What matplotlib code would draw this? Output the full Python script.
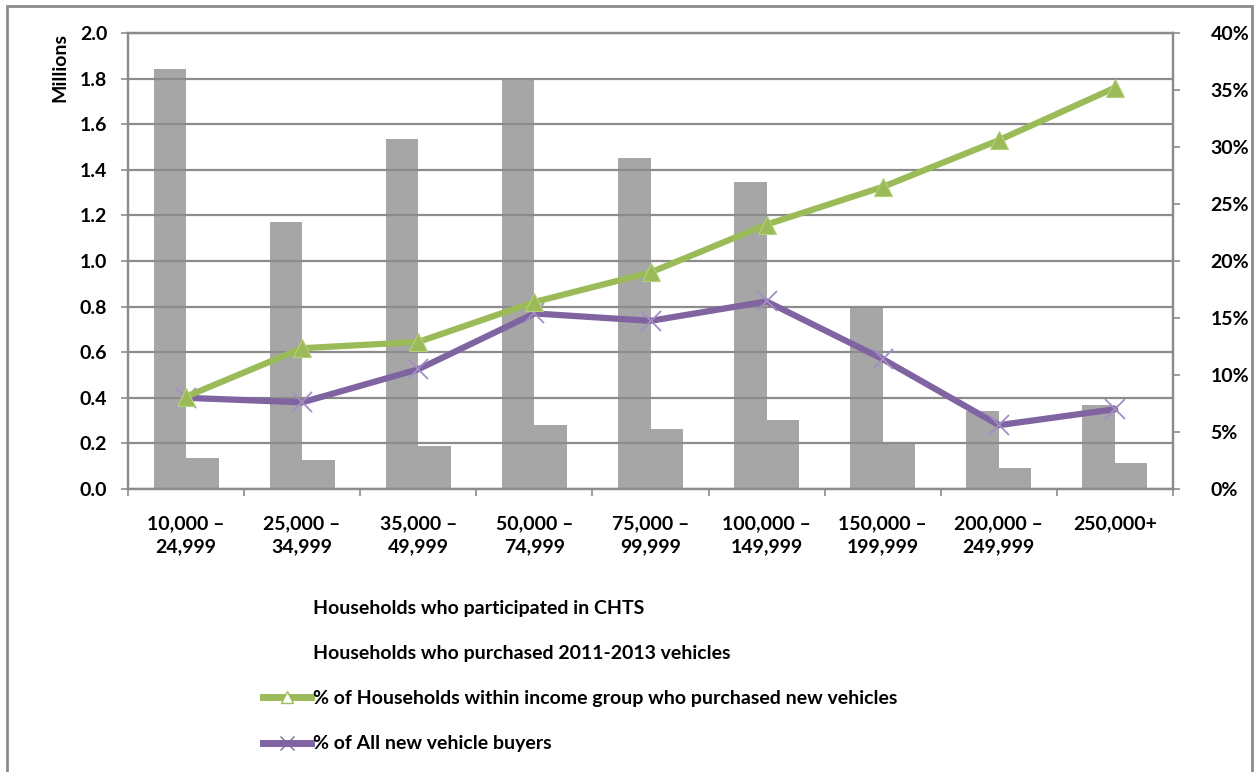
import matplotlib.pyplot as plt
import numpy as np
from matplotlib.lines import Line2D
from matplotlib.patches import Patch, Rectangle
from matplotlib.ticker import FuncFormatter

plt.rcParams['font.family'] = ['Lato', 'DejaVu Sans']
plt.rcParams['font.weight'] = 'bold'

# income groups (x-axis)
groups = ["10,000 –\n24,999", "25,000 –\n34,999", "35,000 –\n49,999",
          "50,000 –\n74,999", "75,000 –\n99,999", "100,000 –\n149,999",
          "150,000 –\n199,999", "200,000 –\n249,999", "250,000+"]

# bars, millions of households (left axis)
chts_households = [1.844, 1.172, 1.537, 1.803, 1.452, 1.347, 0.803, 0.343, 0.369]
new_vehicle_households = [0.138, 0.128, 0.187, 0.279, 0.264, 0.303, 0.200, 0.092, 0.114]

# lines, percent (right axis)
pct_within_group = [8.1, 12.35, 12.9, 16.4, 19.0, 23.2, 26.5, 30.6, 35.2]
pct_all_buyers = [8.0, 7.6, 10.5, 15.4, 14.75, 16.45, 11.4, 5.6, 7.0]

labels = ["Households who participated in CHTS",
          "Households who purchased 2011-2013 vehicles",
          "% of Households within income group who purchased new vehicles",
          "% of All new vehicle buyers"]

bar_grey = "#a6a6a6"
green = "#9bbb59"
purple = "#8064a2"
grid_grey = "#8c8c8c"
fs = 14

fig = plt.figure(figsize=(12.54, 7.72), dpi=100)
ax = fig.add_axes([128 / 1254, 1 - 489 / 772, (1173 - 128) / 1254, (489 - 33) / 772])

x = np.arange(len(groups))
w = 0.28
ax.bar(x - w / 2, chts_households, w, color=bar_grey, zorder=1)
ax.bar(x + w / 2, new_vehicle_households, w, color=bar_grey, zorder=1)

ax.set_xlim(-0.5, len(groups) - 0.5)
ax.set_ylim(0, 2.0)
ax.set_yticks(np.arange(0, 2.01, 0.2))
ax.yaxis.set_major_formatter(FuncFormatter(lambda v, p: f"{v:.1f}"))
ax.set_xticks(np.arange(len(groups) + 1) - 0.5, minor=False)
ax.set_xticklabels([])
ax.set_xticks(x, minor=True)
ax.set_xticklabels(groups, minor=True)
ax.tick_params(axis='x', which='minor', length=0, pad=19, labelsize=fs)
ax.tick_params(axis='x', which='major', length=5, width=1.2, color=grid_grey)
ax.tick_params(axis='y', length=5, width=1.2, color=grid_grey, labelsize=fs, pad=10)
for lab in ax.get_xticklabels(minor=True):
    lab.set_fontweight('bold')
    lab.set_linespacing(1.45)
ax.grid(axis='y', color=grid_grey, lw=1.6, zorder=2)
ax.set_axisbelow(False)
for s in ax.spines.values():
    s.set_color(grid_grey)
    s.set_linewidth(1.6)
ax.set_ylabel("Millions", fontsize=fs, fontweight='bold', loc='top', labelpad=8)

ax2 = ax.twinx()
ax2.set_ylim(0, 40)
ax2.set_yticks(np.arange(0, 41, 5))
ax2.yaxis.set_major_formatter(FuncFormatter(lambda v, p: f"{v:.0f}%"))
ax2.tick_params(axis='y', length=5, width=1.2, color=grid_grey, labelsize=fs, pad=22)
for s in ax2.spines.values():
    s.set_color(grid_grey)
    s.set_linewidth(1.6)
ax2.plot(x, pct_within_group, color=green, lw=4.5, marker='^', markersize=13,
         markerfacecolor=green, markeredgecolor='#b5d07a', markeredgewidth=0.8, zorder=4)
ax2.plot(x, pct_all_buyers, color=purple, lw=4.5, marker='x', markersize=15,
         markeredgecolor='#a48dc4', markeredgewidth=1.3, zorder=3)

handles = [Patch(facecolor='none', edgecolor='none'),
           Patch(facecolor='none', edgecolor='none'),
           Line2D([], [], color=green, lw=5, marker='^', markersize=9,
                  markerfacecolor='white', markeredgecolor=green),
           Line2D([], [], color=purple, lw=5, marker='x', markersize=10,
                  markeredgecolor=purple)]
fig.legend(handles, labels, loc='upper left', bbox_to_anchor=(255 / 1254, 1 - 592 / 772),
           frameon=False, prop={'size': fs, 'weight': 'bold'}, handlelength=2.5,
           handletextpad=0.1, labelspacing=1.45, borderaxespad=0)

fig.add_artist(Rectangle((7 / 1254, -0.02), (1252 - 7) / 1254, 1.02 - 6 / 772,
                         transform=fig.transFigure, fill=False, ec=grid_grey, lw=2))

fig.savefig("out.png", dpi=100)
